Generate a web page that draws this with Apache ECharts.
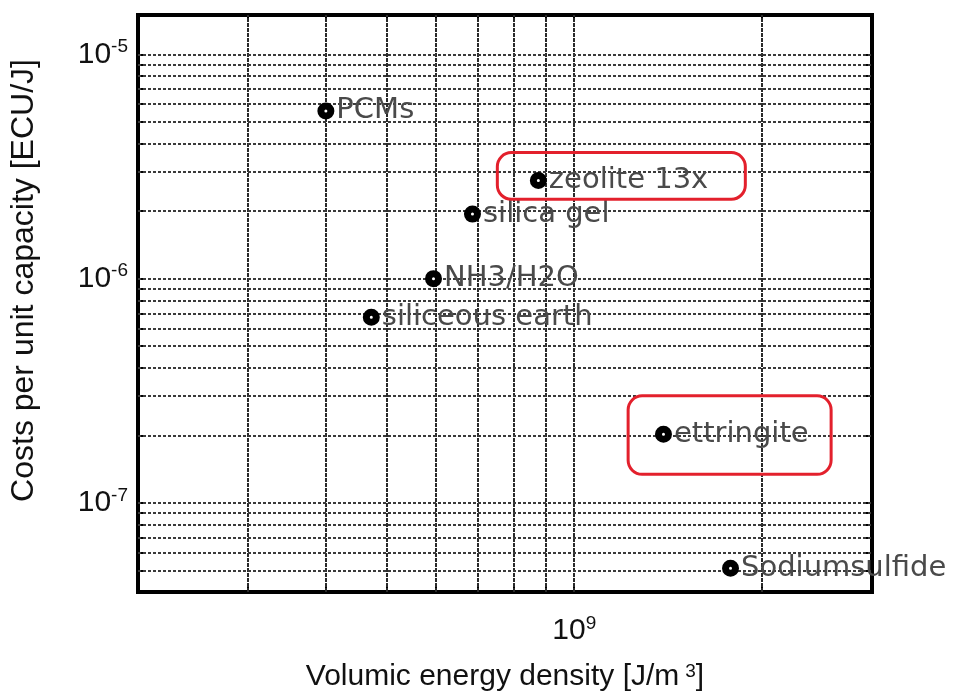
<!doctype html>
<html lang="en">
<head>
<meta charset="UTF-8">
<title>Costs per unit capacity</title>
<style>html,body{margin:0;padding:0;background:#fff;}</style>
</head>
<body>
<div id="main" style="width:964px;height:697px;"></div>
<script src="https://cdn.jsdelivr.net/npm/echarts@6/dist/echarts.min.js"></script>
<script>
// materials
var names = ['PCMs', 'zeolite 13x', 'silica gel', 'NH3/H2O', 'siliceous earth', 'ettringite', 'Sodiumsulfide'];
var energyDensity = [4.0e8, 8.76e8, 6.87e8, 5.95e8, 4.73e8, 1.39e9, 1.78e9];   // J/m3
var costs = [5.6e-6, 2.74e-6, 1.94e-6, 1.0e-6, 6.72e-7, 2.02e-7, 5.1e-8];      // ECU/J

// axis ranges
var xRange = [2e8, 3e9];
var yRange = [4e-8, 1.5e-5];

// log grid lines (2..9 x 10^n)
var xGridValues = [3e8, 4e8, 5e8, 6e8, 7e8, 8e8, 9e8, 1e9, 2e9];
var yGridValues = [5e-8, 6e-8, 7e-8, 8e-8, 9e-8,
    1e-7, 2e-7, 3e-7, 4e-7, 5e-7, 6e-7, 7e-7, 8e-7, 9e-7,
    1e-6, 2e-6, 3e-6, 4e-6, 5e-6, 6e-6, 7e-6, 8e-6, 9e-6, 1e-5];

// red highlight boxes: [xmin, xmax, ymin, ymax]
var zeoliteBox = [7.53e8, 1.88e9, 2.26e-6, 3.65e-6];
var ettringiteBox = [1.22e9, 2.58e9, 1.34e-7, 3.0e-7];

var myChart = echarts.init(document.getElementById('main'));

function powLabel(v) {
    var e = Math.round(Math.log10(v));
    return '{b|10}{s|' + e + '}';
}
var powRich = {
    b: { fontSize: 30, fontFamily: 'Liberation Sans', color: '#111', lineHeight: 34 },
    s: { fontSize: 19, fontFamily: 'Liberation Sans', color: '#111', verticalAlign: 'top', lineHeight: 20 }
};

var vStyle = { color: '#2a2a2a', width: 2, type: [4, 1] };
var hStyle = { color: '#3a3a3a', width: 2, type: [3, 2] };
var gridLines = xGridValues.map(function (v) {
    return [{ coord: [v, yRange[0]], lineStyle: vStyle }, { coord: [v, yRange[1]] }];
}).concat(yGridValues.map(function (v) {
    return [{ coord: [xRange[0], v], lineStyle: hStyle }, { coord: [xRange[1], v] }];
}));

var option = {
    animation: false,
    grid: { left: 133, right: 92, top: 15, bottom: 102, show: true, borderColor: '#000', borderWidth: 4 },
    xAxis: [{
        type: 'log', min: xRange[0], max: xRange[1], position: 'bottom',
        axisLine: { show: false },
        axisTick: { show: true, inside: true, length: 6, customValues: xGridValues, lineStyle: { color: '#000', width: 2 } },
        axisLabel: { showMinLabel: false, showMaxLabel: false, margin: 22, formatter: powLabel, rich: powRich },
        splitLine: { show: false },
        name: 'Volumic energy density [J/m{s|3}]',
        nameLocation: 'middle', nameGap: 70,
        nameTextStyle: {
            fontSize: 30, fontFamily: 'Liberation Sans', color: '#111',
            rich: { s: { fontSize: 19, fontFamily: 'Liberation Sans', color: '#111', verticalAlign: 'top', padding: [0, 0, 0, 6] } }
        }
    }, {
        type: 'log', min: xRange[0], max: xRange[1], position: 'top',
        axisLine: { show: false },
        axisTick: { show: true, inside: true, length: 6, customValues: xGridValues, lineStyle: { color: '#000', width: 2 } },
        axisLabel: { show: false },
        splitLine: { show: false }
    }],
    yAxis: [{
        type: 'log', min: yRange[0], max: yRange[1], position: 'left',
        axisLine: { show: false },
        axisTick: { show: true, inside: true, length: 6, customValues: yGridValues, lineStyle: { color: '#000', width: 2 } },
        axisLabel: { showMinLabel: false, showMaxLabel: false, margin: 10, formatter: powLabel, rich: powRich },
        splitLine: { show: false },
        name: 'Costs per unit capacity [ECU/J]',
        nameLocation: 'middle', nameGap: 98, nameRotate: 90,
        nameTextStyle: { fontSize: 32, fontFamily: 'Liberation Sans', color: '#111', padding: [0, 0, 0, 46] }
    }, {
        type: 'log', min: yRange[0], max: yRange[1], position: 'right',
        axisLine: { show: false },
        axisTick: { show: true, inside: true, length: 6, customValues: yGridValues, lineStyle: { color: '#000', width: 2 } },
        axisLabel: { show: false },
        splitLine: { show: false }
    }],
    series: [{
        // grid lines of the log paper
        type: 'line', data: [], silent: true, z: 1,
        markLine: {
            silent: true, symbol: ['none', 'none'], label: { show: false },
            animation: false,
            data: gridLines
        }
    }, {
        type: 'scatter', z: 5,
        symbol: 'circle', symbolSize: 10,
        itemStyle: { color: '#fff', borderColor: '#000', borderWidth: 7, opacity: 1 },
        label: {
            show: true, position: 'right', distance: 2, formatter: '{b}',
            fontSize: 29, fontFamily: 'DejaVu Sans', color: '#4a4a4a'
        },
        data: names.map(function (n, i) {
            return { name: n, value: [energyDensity[i], costs[i]] };
        })
    }]
};

myChart.setOption(option);

function boxRect(b) {
    var p1 = myChart.convertToPixel({ xAxisIndex: 0, yAxisIndex: 0 }, [b[0], b[3]]);
    var p2 = myChart.convertToPixel({ xAxisIndex: 0, yAxisIndex: 0 }, [b[1], b[2]]);
    return {
        type: 'rect', z: 100,
        shape: { x: p1[0], y: p1[1], width: p2[0] - p1[0], height: p2[1] - p1[1], r: 14 },
        style: { fill: 'none', stroke: '#e3202c', lineWidth: 3 }
    };
}
myChart.setOption({ graphic: [boxRect(zeoliteBox), boxRect(ettringiteBox)] });
</script>
</body>
</html>
